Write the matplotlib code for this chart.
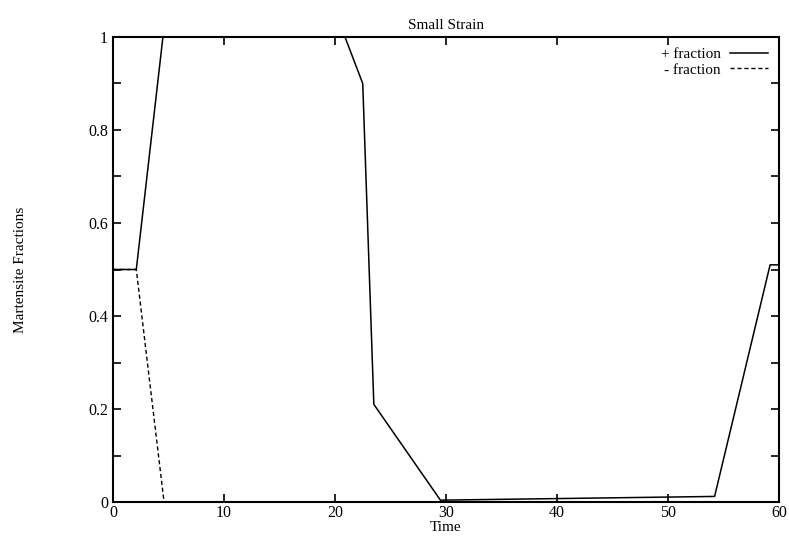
import matplotlib.pyplot as plt

plt.rcParams['font.family'] = ['Liberation Serif', 'DejaVu Serif']

# solid line, "+ fraction"
t_plus = [0, 2.1, 4.5, 20.9, 22.5, 23.5, 29.5, 54.2, 59.2, 60]
f_plus = [0.5, 0.5, 1.0, 1.0, 0.9, 0.21, 0.004, 0.012, 0.51, 0.51]

# dashed line, "- fraction"
t_minus = [0, 2.1, 4.6, 60]
f_minus = [0.5, 0.5, 0.0, 0.0]

fig = plt.figure(figsize=(7.89, 5.36), dpi=100)
ax = fig.add_axes([0.1432, 0.0634, 0.8441, 0.8676])

ax.plot(t_plus, f_plus, color='black', lw=1.1, label='+ fraction')
ax.plot(t_minus, f_minus, color='black', lw=1.0, ls=(0, (3, 2)), label='- fraction')

ax.set_xlim(0, 60)
ax.set_ylim(0, 1)
ax.set_xticks([0, 10, 20, 30, 40, 50, 60])
ax.set_yticks([0, 0.2, 0.4, 0.6, 0.8, 1])
ax.set_yticklabels(['0', '0.2', '0.4', '0.6', '0.8', '1'])
ax.set_yticks([0.1, 0.3, 0.5, 0.7, 0.9], minor=True)
ax.tick_params(which='both', direction='in', top=True, right=True, labelsize=11.5)
ax.tick_params(axis='x', pad=2)
ax.tick_params(which='major', length=6, width=1.2)
ax.tick_params(which='minor', length=6, width=1.2)
for s in ax.spines.values():
    s.set_linewidth(1.5)

ax.set_title('Small Strain', fontsize=11, pad=6)
ax.set_xlabel('Time', fontsize=11, labelpad=0)
ax.set_ylabel('Martensite Fractions', fontsize=11, labelpad=44)

ax.legend(loc='upper right', frameon=False, markerfirst=False, fontsize=11,
          handlelength=2.5, borderaxespad=0.3, labelspacing=0.1, handletextpad=0.6)

plt.savefig('out.png')
